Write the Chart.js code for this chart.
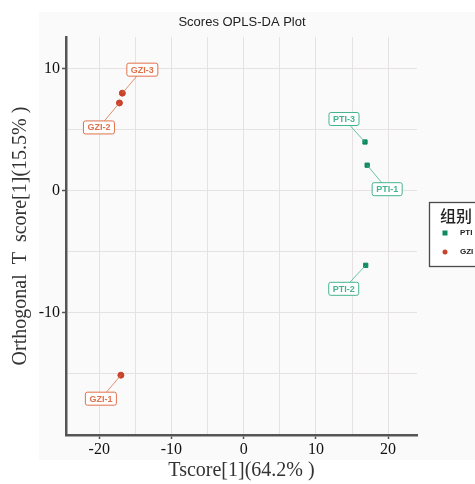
<!DOCTYPE html>
<html>
<head>
<meta charset="utf-8">
<script src="https://cdn.jsdelivr.net/npm/chart.js@4.4.1/dist/chart.umd.min.js"></script>
<style>
  html, body { margin: 0; padding: 0; background: #fff; }
  #wrap { width: 475px; height: 484px; }
</style>
</head>
<body>
<div id="wrap"><canvas id="scores"></canvas></div>
<script>
// sample groups and their OPLS-DA scores
const GROUPS = ['PTI', 'GZI']
const PTI_NAMES = ['PTI-1', 'PTI-2', 'PTI-3']
const PTI_T = [17.1, 16.9, 16.8]
const PTI_ORTHO = [2.1, -6.1, 4.0]
const GZI_NAMES = ['GZI-1', 'GZI-2', 'GZI-3']
const GZI_T = [-17.0, -17.2, -16.8]
const GZI_ORTHO = [-15.1, 7.2, 8.0]

const X_TICKS = [-20, -10, 0, 10, 20]
const Y_TICKS = [-10, 0, 10]

const SCORES_CANVAS = document.getElementById('scores')

function toPoints(names, t, o) {
    return names.map((n, i) => ({ x: t[i], y: o[i], name: n }))
}

// where each text label sits relative to its point (px)
const labelOffsets = {
    'PTI-1': [20, 24],
    'PTI-2': [-22, 23.5],
    'PTI-3': [-21, -23],
    'GZI-1': [-20, 23.5],
    'GZI-2': [-20.5, 24.5],
    'GZI-3': [20, -23.5]
}

const serif = '"Liberation Serif", "Times New Roman", serif'

const panelBackground = {
    id: 'panelBackground',
    beforeDraw(chart) {
        const ctx = chart.ctx
        ctx.save()
        ctx.fillStyle = '#ffffff'
        ctx.fillRect(0, 0, chart.width, chart.height)
        ctx.fillStyle = '#fafafa'
        ctx.fillRect(39, 12, chart.width - 39, 448)
        ctx.restore()
    },
    afterDraw(chart) {
        const ctx = chart.ctx
        ctx.save()
        ctx.fillStyle = '#222'
        ctx.font = '13px "Liberation Sans", Arial, sans-serif'
        ctx.textAlign = 'center'
        ctx.textBaseline = 'middle'
        ctx.fillText('Scores OPLS-DA Plot', 242, 22)
        ctx.restore()
    }
}

const repelLabels = {
    id: 'repelLabels',
    afterDatasetsDraw(chart) {
        const ctx = chart.ctx
        ctx.save()
        ctx.font = 'bold 9px "Liberation Sans", Arial, sans-serif'
        ctx.textAlign = 'center'
        ctx.textBaseline = 'middle'
        chart.data.datasets.forEach((ds, di) => {
            const meta = chart.getDatasetMeta(di)
            meta.data.forEach((el, i) => {
                const name = ds.data[i].name
                const off = labelOffsets[name] || [0, -20]
                const cx = el.x + off[0]
                const cy = el.y + off[1]
                const w = ctx.measureText(name).width + 8
                const h = 13
                // connector from point to edge of the box
                const vx = el.x - cx
                const vy = el.y - cy
                const s = Math.max(Math.abs(vx) / (w / 2), Math.abs(vy) / (h / 2))
                ctx.strokeStyle = ds.labelColor
                ctx.lineWidth = 0.8
                ctx.beginPath()
                ctx.moveTo(el.x, el.y)
                ctx.lineTo(cx + vx / s, cy + vy / s)
                ctx.stroke()
                ctx.lineWidth = 1
                ctx.fillStyle = '#ffffff'
                ctx.beginPath()
                ctx.roundRect(cx - w / 2, cy - h / 2, w, h, 2)
                ctx.fill()
                ctx.stroke()
                ctx.fillStyle = ds.labelColor
                ctx.fillText(name, cx, cy + 0.5)
            })
        })
        ctx.restore()
    }
}

const groupLegend = {
    id: 'groupLegend',
    afterDraw(chart) {
        const ctx = chart.ctx
        ctx.save()
        ctx.fillStyle = '#ffffff'
        ctx.strokeStyle = '#4a4a4a'
        ctx.lineWidth = 1.3
        ctx.fillRect(429.5, 202.5, 60, 64)
        ctx.strokeRect(429.5, 202.5, 60, 64)
        ctx.fillStyle = '#222'
        ctx.font = '500 16px "Noto Sans CJK SC", sans-serif'
        ctx.textBaseline = 'middle'
        ctx.fillText('组别', 440, 216)
        ctx.font = 'bold 8px "Liberation Sans", Arial, sans-serif'
        chart.data.datasets.forEach((ds, i) => {
            const y = 233 + i * 19
            ctx.fillStyle = ds.backgroundColor
            if (ds.pointStyle === 'rect') {
                ctx.fillRect(442.5, y - 2.5, 5, 5)
            } else {
                ctx.beginPath()
                ctx.arc(445, y, 2.5, 0, Math.PI * 2)
                ctx.fill()
            }
            ctx.fillStyle = '#222'
            ctx.fillText(ds.label, 460, y)
        })
        ctx.restore()
    }
}

// grid every 5 units inside the axis range
function gridEveryFive(scale) {
    const ticks = []
    for (let v = Math.ceil(scale.min / 5) * 5; v <= scale.max; v += 5) {
        ticks.push({ value: v })
    }
    scale.ticks = ticks
}

function tickMarkColor(list) {
    return ctx => (ctx.tick && list.includes(ctx.tick.value)) ? '#555' : 'rgba(0,0,0,0)'
}

new Chart(SCORES_CANVAS, {
    type: 'scatter',
    data: {
        datasets: [{
            label: GROUPS[0],
            data: toPoints(PTI_NAMES, PTI_T, PTI_ORTHO),
            backgroundColor: '#0f8a5f',
            borderColor: '#0f8a5f',
            pointStyle: 'rect',
            pointRadius: 3,
            labelColor: '#45b38e'
        }, {
            label: GROUPS[1],
            data: toPoints(GZI_NAMES, GZI_T, GZI_ORTHO),
            backgroundColor: '#c8432b',
            borderColor: '#c8432b',
            pointStyle: 'circle',
            pointRadius: 3,
            labelColor: '#e0714a'
        }]
    },
    options: {
        responsive: true,
        maintainAspectRatio: false,
        animation: false,
        layout: { padding: { top: 37, right: 58, left: 0, bottom: 0 } },
        plugins: {
            legend: { display: false },
            tooltip: { enabled: false }
        },
        scales: {
            x: {
                type: 'linear',
                min: -24.6,
                max: 24.0,
                afterFit: s => { s.height = 49 },
                afterBuildTicks: gridEveryFive,
                border: { display: true, color: '#555', width: 2.5 },
                grid: { color: '#e6e2e2', lineWidth: 1, tickLength: 4, tickColor: tickMarkColor(X_TICKS), tickWidth: 1.5 },
                ticks: {
                    color: '#111',
                    padding: 1,
                    maxRotation: 0,
                    autoSkip: false,
                    font: { family: serif, size: 16 },
                    callback: v => X_TICKS.includes(v) ? String(v) : ''
                },
                title: {
                    display: true,
                    text: 'Tscore[1](64.2% )',
                    color: '#333',
                    font: { family: serif, size: 20 },
                    padding: { bottom: 1 }
                }
            },
            y: {
                type: 'linear',
                min: -20.0,
                max: 12.6,
                afterFit: s => { s.width = 66 },
                afterBuildTicks: gridEveryFive,
                border: { display: true, color: '#555', width: 2.5 },
                grid: { color: '#e6e2e2', lineWidth: 1, tickLength: 4, tickColor: tickMarkColor(Y_TICKS), tickWidth: 1.5 },
                ticks: {
                    color: '#111',
                    padding: 2,
                    autoSkip: false,
                    font: { family: serif, size: 16 },
                    callback: v => Y_TICKS.includes(v) ? String(v) : ''
                },
                title: {
                    display: true,
                    text: 'Orthogonal  T  score[1](15.5% )',
                    color: '#333',
                    font: { family: serif, size: 20 },
                    padding: { top: 9 }
                }
            }
        }
    },
    plugins: [panelBackground, repelLabels, groupLegend]
})
</script>
</body>
</html>
